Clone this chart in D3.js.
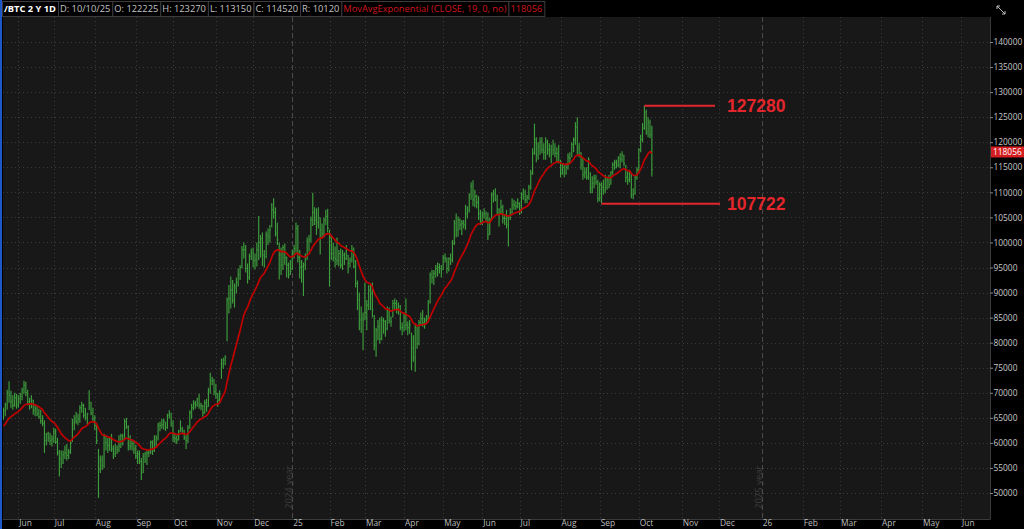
<!DOCTYPE html>
<html><head><meta charset="utf-8">
<script src="https://cdn.jsdelivr.net/npm/d3@7"></script>
<style>
html,body{margin:0;padding:0;background:#000;overflow:hidden}
svg{display:block}
</style></head><body>
<svg id="c" width="1024" height="529"></svg>
<script>
// ---------------- DATA (prices in thousands of USD) ----------------
const firstBarDate = "2024-05-21";
const axisEndDate = "2026-06-22";
const closedDays = ["2024-05-27","2024-06-19","2024-07-04","2024-09-02","2024-11-28","2024-12-25",
  "2025-01-01","2025-01-09","2025-01-20","2025-02-17","2025-04-18","2025-05-26","2025-06-19","2025-07-04","2025-09-01"];

const highs = [
  67.0,68.0,70.6,72.3,70.4,69.5,70.0,69.8,
  69.5,70.0,71.0,72.4,72.2,70.6,69.0,69.5,68.6,67.5,67.4,66.8,66.6,65.5,64.5,62.0,62.2,62.0,61.5,
  63.0,62.8,61.0,58.6,58.5,58.5,59.5,59.8,58.8,60.5,64.8,65.5,66.2,65.8,67.5,68.2,67.8,67.0,66.0,70.5,68.2,67.0,
  65.5,64.0,58.8,57.5,57.5,61.8,61.5,61.0,61.2,61.8,59.5,59.8,59.5,61.5,61.8,61.8,64.8,65.0,63.5,61.5,60.8,60.5,
  59.6,58.5,58.5,57.0,58.0,58.2,58.5,58.8,60.5,60.5,61.5,61.5,64.0,64.2,64.8,64.8,64.2,65.8,66.5,66.0,
  64.5,62.0,61.5,62.6,64.5,63.2,62.6,61.5,63.5,66.5,67.8,68.5,68.4,69.0,69.8,68.0,67.6,68.6,68.8,71.0,74.0,73.2,72.8,
  71.8,70.0,70.5,76.8,77.0,77.5,89.0,91.5,93.2,92.5,91.8,93.0,94.8,95.5,99.3,100.0,99.5,95.8,97.8,98.8,
  99.0,97.8,100.0,105.3,101.5,102.0,98.5,102.2,102.8,103.5,107.8,108.8,107.0,104.0,100.0,99.0,99.5,99.8,97.2,96.0,96.5,
  98.5,99.5,104.0,103.5,98.5,96.5,96.0,97.8,101.0,101.5,105.2,109.9,107.0,106.8,107.0,105.0,103.8,105.0,106.5,106.7,
  102.5,101.5,100.0,99.2,101.0,98.5,98.8,98.5,98.0,99.5,97.5,97.0,99.5,99.0,96.5,92.4,90.0,87.2,86.0,
  92.0,88.5,91.5,91.7,92.0,85.5,83.0,84.5,85.0,85.2,85.0,84.5,87.2,87.0,85.2,88.5,88.8,88.5,88.0,87.5,84.0,
  86.0,88.8,84.2,84.5,82.0,81.5,83.8,83.2,84.5,86.0,86.5,85.0,85.5,88.5,94.0,94.5,94.5,95.5,96.0,95.8,95.5,
  97.5,97.8,97.0,97.0,97.8,100.5,104.5,105.8,105.2,104.8,104.5,104.5,107.5,107.2,109.8,112.0,112.4,110.5,109.5,109.2,106.5,
  106.2,106.8,106.2,106.0,105.0,110.0,110.5,110.8,109.5,106.8,108.5,107.5,105.5,106.5,105.5,106.8,108.8,108.5,108.2,108.8,
  108.0,110.0,110.8,110.5,109.5,111.5,114.5,118.8,123.7,121.0,120.0,121.0,121.0,119.8,121.0,120.5,119.8,119.5,120.5,119.8,119.0,119.5,
  116.5,115.8,115.5,115.8,117.8,118.0,120.0,121.0,124.0,125.0,119.8,118.0,117.0,115.0,115.0,117.0,114.0,113.2,113.5,113.5,112.5,
  112.0,112.0,112.5,113.5,113.0,113.5,114.2,116.0,116.5,116.5,117.2,117.8,118.2,117.5,115.5,114.2,114.5,113.8,110.8,113.5,115.0,
  118.8,121.5,123.8,127.28,126.5,125.0,124.5,123.27
];
const lows = [
  64.6,65.3,66.6,68.0,67.0,66.6,67.2,66.8,
  67.0,67.8,68.5,69.8,69.3,67.5,66.6,66.9,65.6,65.3,65.3,64.8,63.8,63.3,58.0,59.5,60.2,59.6,59.3,
  60.0,59.8,57.5,53.3,55.0,55.8,56.8,56.5,56.8,57.8,60.2,62.5,63.8,63.5,64.0,66.0,65.0,64.5,63.5,66.5,65.5,64.2,
  62.5,59.8,49.0,54.0,54.6,55.0,58.5,58.0,58.4,58.2,56.8,57.2,57.8,58.2,59.0,59.5,60.5,62.8,58.5,58.6,58.5,57.8,
  56.8,55.8,55.8,52.6,54.0,56.0,55.6,57.2,57.8,57.6,58.2,59.3,60.5,62.3,62.8,62.6,62.4,62.8,64.8,63.2,
  60.2,60.0,59.8,60.5,62.2,61.8,60.6,58.8,60.0,62.8,64.8,66.5,66.8,67.2,66.8,66.5,65.2,65.8,66.2,67.2,69.8,71.5,69.5,
  68.8,67.2,68.0,72.8,74.8,75.5,80.3,85.8,86.8,87.8,87.0,89.8,91.2,92.5,94.8,96.8,94.0,91.8,92.5,96.5,
  95.0,94.6,95.2,96.5,97.0,95.3,95.0,96.8,99.5,100.0,103.0,104.8,101.2,99.5,92.6,93.5,94.5,95.5,93.0,92.8,93.5,
  94.5,96.8,98.0,96.0,92.8,92.0,89.3,94.5,96.5,98.2,100.0,103.3,103.5,101.5,102.8,97.6,100.8,101.0,103.5,102.0,
  91.2,96.5,96.2,95.0,95.5,95.2,94.8,94.5,95.5,96.5,93.8,95.0,96.0,94.8,91.0,86.5,82.5,82.0,78.5,
  84.5,82.5,86.5,86.5,85.0,78.5,77.2,80.5,79.8,80.5,81.8,81.2,82.5,83.8,83.2,85.0,86.5,85.8,85.6,82.5,81.5,
  82.2,82.5,81.5,81.8,74.5,76.2,74.2,78.8,79.5,83.5,83.2,82.8,83.8,84.5,87.8,91.8,91.5,93.0,93.2,93.8,93.0,
  94.5,96.0,93.8,94.2,95.5,96.0,99.5,101.0,101.2,102.5,101.5,102.8,102.5,104.8,106.0,108.5,107.2,107.0,106.8,104.5,103.5,
  103.5,104.8,104.0,100.5,101.5,104.8,108.0,108.2,105.5,103.2,105.5,103.8,103.5,102.8,99.2,104.5,105.8,106.5,106.5,106.8,
  105.5,105.8,108.5,107.8,107.8,108.5,110.5,113.5,117.5,116.0,116.5,117.5,117.8,116.5,116.5,117.5,117.0,115.8,117.5,117.0,115.8,115.8,
  113.0,113.5,113.0,113.5,114.5,115.8,117.0,118.0,119.5,117.5,117.0,114.5,112.5,112.8,112.5,112.5,109.8,109.8,110.8,111.5,108.0,
  108.2,107.722,109.5,109.8,110.5,110.8,111.5,113.5,114.5,114.8,115.0,114.8,116.0,115.2,112.0,111.5,112.0,108.8,108.6,109.5,112.5,
  114.0,118.0,120.0,122.5,121.5,121.0,120.8,113.15
];
const closes = [
  66.5,67.6,70.0,69.5,68.2,67.5,69.0,67.6,
  68.8,69.3,70.6,71.5,70.0,68.2,67.8,68.5,66.4,66.8,65.8,65.2,64.4,63.9,60.5,61.8,61.0,60.5,60.8,
  62.2,60.2,58.0,56.8,56.0,57.6,58.0,57.5,58.2,60.0,64.0,64.5,64.2,64.8,67.0,67.5,65.5,65.0,65.8,68.0,66.0,64.8,
  63.5,60.5,54.8,56.5,55.5,61.2,60.0,59.5,60.8,58.8,57.8,59.0,58.6,59.4,61.4,60.6,64.2,63.2,59.5,59.3,59.8,58.8,
  57.4,57.8,56.3,54.0,57.2,57.8,58.0,58.2,60.2,58.5,60.6,61.0,63.5,63.4,63.6,64.3,63.0,65.5,65.8,63.8,
  61.0,60.8,60.6,62.2,62.8,62.4,61.0,60.5,63.0,66.0,67.0,67.8,67.6,68.8,67.5,67.4,66.0,68.0,67.2,70.5,72.5,72.4,70.2,
  69.8,68.5,69.8,75.8,76.5,77.0,88.5,88.8,90.5,88.5,91.2,92.0,93.6,95.0,98.5,98.6,94.8,93.0,97.2,98.0,
  96.5,96.5,98.5,100.0,100.8,97.5,97.2,101.5,101.2,102.5,106.5,106.0,101.8,100.5,97.5,95.5,99.0,97.0,95.5,93.5,94.2,
  97.8,98.8,102.8,97.0,95.0,95.2,95.5,97.2,100.2,100.5,104.5,106.0,104.5,104.0,105.0,102.5,101.8,104.5,105.2,102.8,
  101.0,97.8,97.0,96.8,96.4,97.8,95.5,97.5,96.8,97.5,95.8,96.5,98.5,95.2,91.8,88.5,84.5,84.8,84.5,
  86.0,87.5,90.5,89.8,86.5,79.5,82.5,83.2,80.8,84.5,84.2,82.8,86.5,84.5,84.2,87.8,87.8,86.8,87.2,83.0,83.0,
  85.5,83.5,83.0,83.5,79.0,77.0,83.0,79.8,84.0,84.8,84.0,84.5,84.8,88.0,93.5,93.0,93.8,94.8,95.0,94.8,94.5,
  97.0,96.8,94.8,96.8,96.5,99.8,103.8,102.5,104.5,103.5,103.8,103.5,105.8,106.5,109.5,111.2,108.5,109.2,108.0,105.8,104.2,
  105.5,105.8,104.8,101.5,104.5,109.5,109.8,108.5,106.5,106.0,107.0,104.8,104.8,103.5,105.0,106.0,107.5,107.5,107.2,107.8,
  106.5,109.5,110.0,108.5,109.0,111.0,113.8,117.8,120.5,117.5,119.0,120.0,118.5,118.0,120.0,118.5,118.5,117.5,118.5,117.8,117.8,116.0,
  113.8,115.0,114.0,115.0,117.0,116.8,119.5,120.5,123.0,118.8,117.8,115.5,113.5,114.0,113.0,116.5,110.8,111.8,112.8,112.0,108.8,
  111.5,111.0,110.5,111.0,112.5,111.5,114.0,115.5,116.0,115.5,116.8,116.5,117.5,115.8,113.0,112.5,113.8,109.5,109.8,113.0,114.5,
  118.5,120.5,122.8,126.0,122.0,124.0,121.5,114.52
];
const unit = 1000;
const emaPeriod = 19;
const emaBefore = 63.0;          // EMA value just before the first visible bar
const emaLastText = "118056";

const yTickValues = [50000,55000,60000,65000,70000,75000,80000,85000,90000,95000,100000,
  105000,110000,115000,120000,125000,130000,135000,140000];
const monthNames = ["Jan","Feb","Mar","Apr","May","Jun","Jul","Aug","Sep","Oct","Nov","Dec"];

const headerItems = [
  {t:"/BTC 2 Y 1D", c:"#ffffff", b:true},
  {t:"D: 10/10/25", c:"#c4c4c4"},
  {t:"O: 122225", c:"#c4c4c4"},
  {t:"H: 123270", c:"#c4c4c4"},
  {t:"L: 113150", c:"#c4c4c4"},
  {t:"C: 114520", c:"#c4c4c4"},
  {t:"R: 10120", c:"#c4c4c4"},
  {t:"MovAvgExponential (CLOSE, 19, 0, no)", c:"#d0161b"},
  {t:"118056", c:"#d0161b"}
];
const levelHigh = 127280, levelLow = 107722;

// ---------------- BUILD ----------------
const parse = d3.utcParse("%Y-%m-%d"), fmt = d3.utcFormat("%Y-%m-%d");
const closed = new Set(closedDays);
const slots = [];
let d = parse(firstBarDate);
while (slots.length < highs.length) {
  const wd = d.getUTCDay();
  if (wd !== 0 && wd !== 6 && !closed.has(fmt(d))) slots.push(d);
  d = d3.utcDay.offset(d, 1);
}
const endD = parse(axisEndDate);
while (d <= endD) { const wd = d.getUTCDay(); if (wd !== 0 && wd !== 6) slots.push(d); d = d3.utcDay.offset(d, 1); }

const bars = highs.map((h,i)=>({i, h:h*unit, l:lows[i]*unit, c:closes[i]*unit}));
const alpha = 2/(emaPeriod+1);
let e = emaBefore*unit;
const ema = bars.map(b => (e = alpha*b.c + (1-alpha)*e));

const P = {l:3, r:990, t:17, b:519};
const svg = d3.select("#c");
const x = d3.scaleLinear().domain([-0.25, slots.length-0.5]).range([P.l, P.r]);
const y = d3.scaleLinear().domain([50000,140000]).range([493,42]);

svg.append("rect").attr("width",1024).attr("height",529).attr("fill","#000");
svg.append("rect").attr("x",P.l).attr("y",P.t).attr("width",P.r-P.l).attr("height",P.b-P.t)
  .attr("fill","#181818");

svg.append("clipPath").attr("id","pc").append("rect")
  .attr("x",P.l).attr("y",P.t).attr("width",P.r-P.l).attr("height",P.b-P.t);
const plot = svg.append("g").attr("clip-path","url(#pc)");

// month ticks
const monthTicks = [];
for (let i=1;i<slots.length;i++){
  if (slots[i].getUTCMonth() !== slots[i-1].getUTCMonth()) {
    const m = slots[i].getUTCMonth();
    monthTicks.push({i, label: m===0 ? String(slots[i].getUTCFullYear()).slice(2) : monthNames[m],
      year: m===0, prevYear: slots[i-1].getUTCFullYear()});
  }
}
// grid
plot.selectAll(".hg").data(yTickValues).join("line")
  .attr("x1",P.l).attr("x2",P.r).attr("y1",v=>Math.round(y(v))+0.5).attr("y2",v=>Math.round(y(v))+0.5)
  .attr("stroke","#3b3b3b").attr("stroke-dasharray","1,3");
plot.selectAll(".vg").data(monthTicks).join("line")
  .attr("x1",t=>Math.round(x(t.i))+0.5).attr("x2",t=>Math.round(x(t.i))+0.5).attr("y1",P.t).attr("y2",P.b)
  .attr("stroke",t=>t.year?"#4a4a4a":"#3b3b3b").attr("stroke-dasharray",t=>t.year?"5,3":"1,3");
// year labels
plot.selectAll(".yl").data(monthTicks.filter(t=>t.year)).join("text")
  .attr("transform",t=>`translate(${Math.round(x(t.i))-0.5},509) rotate(-90)`)
  .attr("fill","#3d3d3d").attr("font-family","Open Sans, sans-serif").attr("font-size","9.5px")
  .text(t=>t.prevYear+" year");

// bars
plot.append("g").selectAll("line").data(bars).join("line")
  .attr("x1",b=>x(b.i)).attr("x2",b=>x(b.i)).attr("y1",b=>y(b.h)).attr("y2",b=>y(b.l))
  .attr("stroke","#3d9e3d").attr("stroke-width",1.15);
plot.append("g").selectAll("line").data(bars).join("line")
  .attr("x1",b=>x(b.i)).attr("x2",b=>x(b.i)+1.1).attr("y1",b=>y(b.c)).attr("y2",b=>y(b.c))
  .attr("stroke","#3d9e3d").attr("stroke-width",1);

// EMA
plot.append("path").datum(ema)
  .attr("d", d3.line().x((v,i)=>x(i)).y(v=>y(v)))
  .attr("fill","none").attr("stroke","#c00000").attr("stroke-width",1.7).attr("stroke-linejoin","round");

// level annotations
const hiIdx = highs.indexOf(levelHigh/unit), loIdx = lows.indexOf(levelLow/unit);
const ann = [{v:levelHigh, i:hiIdx, x2:715}, {v:levelLow, i:loIdx, x2:720}];
svg.selectAll(".al").data(ann).join("line")
  .attr("x1",a=>x(a.i)).attr("x2",a=>a.x2).attr("y1",a=>y(a.v)).attr("y2",a=>y(a.v))
  .attr("stroke","#e3262b").attr("stroke-width",2);
svg.selectAll(".at").data(ann).join("text")
  .attr("x",727).attr("y",a=>y(a.v)+6.5)
  .attr("fill","#e3262b").attr("font-family","Liberation Sans, Arial, sans-serif")
  .attr("font-weight","bold").attr("font-size","17.5px").text(a=>d3.format("d")(a.v));

// plot frame
svg.append("line").attr("x1",P.r+0.5).attr("x2",P.r+0.5).attr("y1",P.t).attr("y2",P.b+0.5).attr("stroke","#3a3a3a");
svg.append("line").attr("x1",P.l).attr("x2",P.r).attr("y1",P.b+0.5).attr("y2",P.b+0.5).attr("stroke","#3a3a3a");

// right axis
const ya = svg.append("g").attr("transform",`translate(${P.r},0)`)
  .call(d3.axisRight(y).tickValues(yTickValues).tickSize(3).tickPadding(0.5).tickFormat(d3.format("d")));
ya.select(".domain").remove();
ya.selectAll("line").attr("stroke","#8a8a8a");
ya.selectAll("text").attr("fill","#c8c8c8").attr("font-family","Open Sans, sans-serif").attr("font-size","8.4px");

// price tag
const ty = y(+emaLastText);
svg.append("rect").attr("x",991).attr("y",ty-5.5).attr("width",33).attr("height",11).attr("fill","#d41e22");
svg.append("text").attr("x",993).attr("y",ty+3).attr("fill","#fff")
  .attr("font-family","Open Sans, sans-serif").attr("font-size","8.4px").text(emaLastText);

// small toolbar icon top-right
const ic = svg.append("g").attr("transform","translate(996,5)").attr("stroke","#bdbdbd").attr("fill","none").attr("stroke-width",1);
ic.append("path").attr("d","M1,1 L4,1 M1,1 L1,4 M1,1 L5,5");
ic.append("path").attr("d","M9,9 L6,9 M9,9 L9,6 M9,9 L5,5");

// bottom axis
const xa = svg.append("g").attr("transform",`translate(0,${P.b})`)
  .call(d3.axisBottom(x).tickValues(monthTicks.map(t=>t.i)).tickSize(0).tickPadding(2)
    .tickFormat((v,k)=>monthTicks[k].label));
xa.select(".domain").remove();
xa.selectAll("text").attr("text-anchor","start").attr("dx","0.5").attr("dy","0.55em")
  .attr("fill","#bdbdbd").attr("font-family","Open Sans, sans-serif").attr("font-size","8.4px");

// header
const hg = svg.append("g");
let cx = 2;
headerItems.forEach(it=>{
  const t = hg.append("text").attr("x",cx+2).attr("y",12).attr("fill",it.c)
    .attr("font-family","Open Sans, sans-serif").attr("font-size","9.3px")
    .attr("font-weight",it.b?"bold":"normal").text(it.t);
  const w = t.node().getComputedTextLength();
  hg.insert("rect","text").attr("x",cx+0.5).attr("y",1.5).attr("width",w+4).attr("height",15)
    .attr("fill","#000").attr("stroke","#3c3c3c");
  cx += w+4;
});

// left blue frame
svg.append("rect").attr("x",0).attr("y",0).attr("width",2).attr("height",529).attr("fill","#1f56c8");
</script>
</body></html>
